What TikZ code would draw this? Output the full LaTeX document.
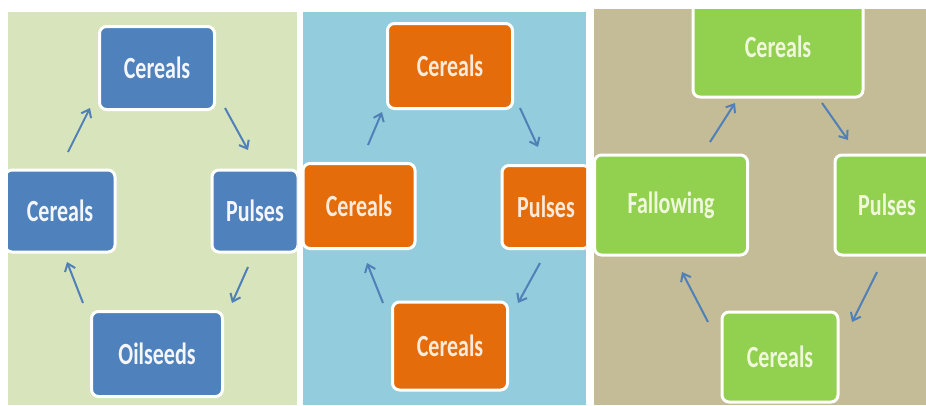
\documentclass[tikz,border=0pt]{standalone}
\usepackage{fontspec}
\setmainfont{Carlito}
\usetikzlibrary{arrows.meta}
\definecolor{bgA}{HTML}{D8E4BC}
\definecolor{bgB}{HTML}{93CDDD}
\definecolor{bgC}{HTML}{C4BC96}
\definecolor{boxA}{HTML}{4F81BD}
\definecolor{boxB}{HTML}{E46C0A}
\definecolor{boxC}{HTML}{92D050}
\definecolor{txtA}{HTML}{F4F6FA}
\definecolor{txtB}{HTML}{FDEADA}
\definecolor{txtC}{HTML}{F0F8DC}
\definecolor{arr}{HTML}{5080B8}
\newcommand{\boxlabel}[1]{\scalebox{1}[1.4]{#1}}
\tikzset{
  cropbox/.style={rounded corners=7pt, draw=white, line width=3pt, align=center,
    font=\fontsize{22}{22}\selectfont\bfseries, inner sep=0pt},
  bluebox/.style={cropbox, fill=boxA, text=txtA},
  orangebox/.style={cropbox, fill=boxB, text=txtB},
  greenbox/.style={cropbox, fill=boxC, text=txtC},
  cyclearrow/.style={draw=arr, line width=2pt, -{Straight Barb[length=7pt,width=11pt,line width=2pt]}}
}
\begin{document}
\begin{tikzpicture}[x=1pt,y=-1pt]
\useasboundingbox (0,0) rectangle (926,405);
\fill[white] (0,0) rectangle (926,405);
% ---------- Panel 1 ----------
\begin{scope}
\clip (8,12) rectangle (297,405);
\fill[bgA] (8,12) rectangle (297,405);
\node[bluebox, minimum width=115pt, minimum height=83pt] (a1) at (157,68) {\boxlabel{Cereals}};
\node[bluebox, minimum width=110pt, minimum height=82pt] (a2) at (60,211) {\boxlabel{Cereals}};
\node[bluebox, minimum width=86pt, minimum height=82pt] (a3) at (255,211) {\boxlabel{Pulses}};
\node[bluebox, minimum width=131pt, minimum height=85pt] (a4) at (157,354) {\boxlabel{Oilseeds}};
\coordinate (a21s) at (68,152); \coordinate (a21e) at (90,108);
\coordinate (a13s) at (225,108); \coordinate (a13e) at (248,150);
\coordinate (a34s) at (248,267); \coordinate (a34e) at (232,303);
\coordinate (a42s) at (83,303); \coordinate (a42e) at (67,262);
\draw[cyclearrow] (a21s) -- (a21e);
\draw[cyclearrow] (a13s) -- (a13e);
\draw[cyclearrow] (a34s) -- (a34e);
\draw[cyclearrow] (a42s) -- (a42e);
\end{scope}
% ---------- Panel 2 ----------
\begin{scope}
\clip (303,12) rectangle (586,405);
\fill[bgB] (303,12) rectangle (586,405);
\node[orangebox, minimum width=125pt, minimum height=85pt] (b1) at (450,66) {\boxlabel{Cereals}};
\node[orangebox, minimum width=112pt, minimum height=85pt] (b2) at (359,206) {\boxlabel{Cereals}};
\node[orangebox, minimum width=88pt, minimum height=83pt] (b3) at (546,207) {\boxlabel{Pulses}};
\node[orangebox, minimum width=115pt, minimum height=88pt] (b4) at (450,346) {\boxlabel{Cereals}};
\coordinate (b21s) at (368,145); \coordinate (b21e) at (382,112);
\coordinate (b13s) at (520,108); \coordinate (b13e) at (538,147);
\coordinate (b34s) at (540,263); \coordinate (b34e) at (518,303);
\coordinate (b42s) at (383,303); \coordinate (b42e) at (367,263);
\draw[cyclearrow] (b21s) -- (b21e);
\draw[cyclearrow] (b13s) -- (b13e);
\draw[cyclearrow] (b34s) -- (b34e);
\draw[cyclearrow] (b42s) -- (b42e);
\end{scope}
% ---------- Panel 3 ----------
\begin{scope}
\clip (594,9) rectangle (926,405);
\fill[bgC] (594,9) rectangle (926,405);
\node[greenbox, minimum width=170pt, minimum height=100pt] (c1) at (778,47) {\boxlabel{Cereals}};
\node[greenbox, minimum width=153pt, minimum height=100pt] (c2) at (671,205) {\boxlabel{Fallowing}};
\node[greenbox, minimum width=104pt, minimum height=100pt] (c3) at (887,205) {\boxlabel{Pulses}};
\node[greenbox, minimum width=116pt, minimum height=90pt] (c4) at (780,357) {\boxlabel{Cereals}};
\coordinate (c21s) at (710,142); \coordinate (c21e) at (735,103);
\coordinate (c13s) at (822,103); \coordinate (c13e) at (848,140);
\coordinate (c34s) at (877,272); \coordinate (c34e) at (852,322);
\coordinate (c42s) at (708,322); \coordinate (c42e) at (682,272);
\draw[cyclearrow] (c21s) -- (c21e);
\draw[cyclearrow] (c13s) -- (c13e);
\draw[cyclearrow] (c34s) -- (c34e);
\draw[cyclearrow] (c42s) -- (c42e);
\end{scope}
\end{tikzpicture}
\end{document}
